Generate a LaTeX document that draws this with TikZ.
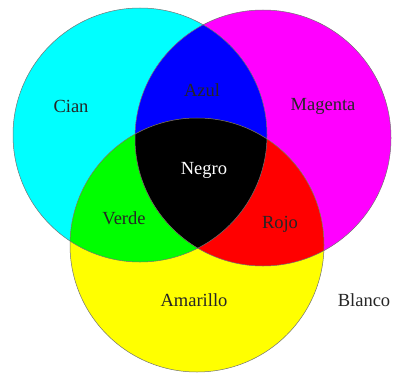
\documentclass[tikz,border=0pt]{standalone}
\usepackage{fontspec}
\setmainfont{Liberation Serif}
\definecolor{vcyan}{RGB}{0,255,255}
\definecolor{vmagenta}{RGB}{255,0,255}
\definecolor{vyellow}{RGB}{255,255,0}
\definecolor{vblue}{RGB}{0,0,255}
\definecolor{vgreen}{RGB}{0,255,0}
\definecolor{vred}{RGB}{255,0,0}
\definecolor{vblack}{RGB}{0,0,0}
\begin{document}
\begin{tikzpicture}[x=1pt,y=-1pt,
  lbl/.style={font=\fontsize{18.5}{20}\selectfont, text=black!85, inner sep=0pt},
  rim/.style={draw=black!55, line width=0.5pt}]
\useasboundingbox (0,0) rectangle (395,374);
\fill[white] (0,0) rectangle (395,374);
\coordinate (C) at (140,135);
\coordinate (M) at (263,138);
\coordinate (Y) at (197,245);
\def\rc{127}\def\rm{128}\def\ry{127}
\fill[vcyan] (C) circle (\rc);
\fill[vmagenta] (M) circle (\rm);
\fill[vyellow] (Y) circle (\ry);
\begin{scope}
  \clip (C) circle (\rc);
  \fill[vblue] (M) circle (\rm);
  \fill[vgreen] (Y) circle (\ry);
\end{scope}
\begin{scope}
  \clip (M) circle (\rm);
  \fill[vred] (Y) circle (\ry);
\end{scope}
\begin{scope}
  \clip (C) circle (\rc);
  \clip (M) circle (\rm);
  \fill[vblack] (Y) circle (\ry);
\end{scope}
\draw[rim] (C) circle (\rc);
\draw[rim] (M) circle (\rm);
\draw[rim] (Y) circle (\ry);
\node[lbl] (cian) at (71,106) {Cian};
\node[lbl] (azul) at (202,90) {Azul};
\node[lbl] (magenta) at (323,106) {Magenta};
\node[lbl, text=white] (negro) at (204,170) {Negro};
\node[lbl] (verde) at (124,218) {Verde};
\node[lbl] (rojo) at (280,224) {Rojo};
\node[lbl] (amarillo) at (194,300) {Amarillo};
\node[lbl] (blanco) at (364,300) {Blanco};
\end{tikzpicture}
\end{document}
